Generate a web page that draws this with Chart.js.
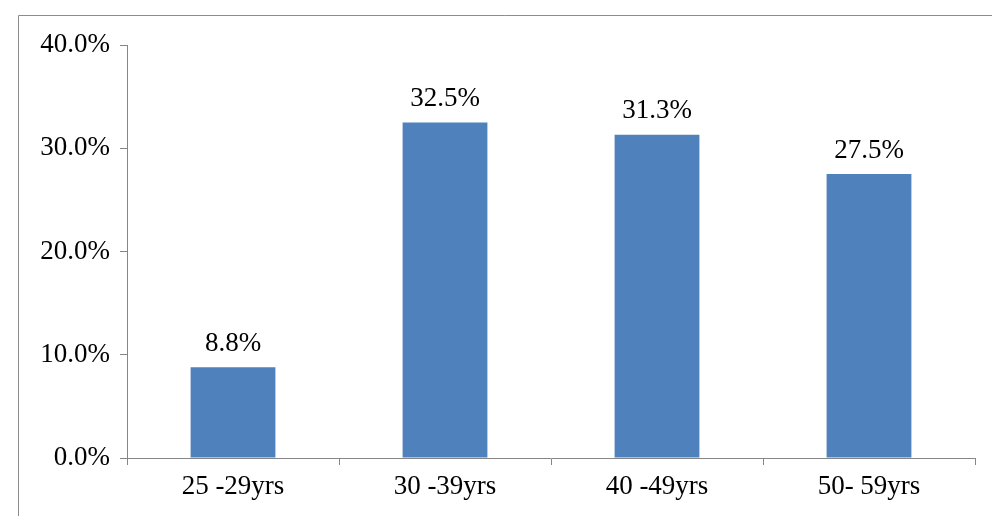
<!DOCTYPE html>
<html>
<head>
<meta charset="utf-8">
<script src="https://cdn.jsdelivr.net/npm/chart.js@4"></script>
<style>
  html, body { margin: 0; padding: 0; background: #fff; }
  #wrap { width: 992px; height: 516px; }
</style>
</head>
<body>
<div id="wrap"><canvas id="grafico"></canvas></div>
<script>
const categorias = ['25 -29yrs', '30 -39yrs', '40 -49yrs', '50- 59yrs'];
const valores = [8.8, 32.5, 31.3, 27.5];
const ticksY = [0, 10, 20, 30, 40];

const corEixo = '#868686';
const fonte = { family: 'Liberation Serif', size: 27 };

// moldura e rótulos em cima das barras
const extras = {
  id: 'extras',
  beforeDraw(chart) {
    const ctx = chart.ctx;
    ctx.save();
    ctx.strokeStyle = '#8c8c8c';
    ctx.lineWidth = 1;
    ctx.beginPath();
    ctx.moveTo(18.5, 516);
    ctx.lineTo(18.5, 15.5);
    ctx.lineTo(992, 15.5);
    ctx.stroke();
    ctx.restore();
  },
  afterDatasetsDraw(chart) {
    const ctx = chart.ctx;
    const meta = chart.getDatasetMeta(0);
    ctx.save();
    ctx.font = '27px "Liberation Serif"';
    ctx.fillStyle = '#000';
    ctx.textAlign = 'center';
    ctx.textBaseline = 'bottom';
    meta.data.forEach((bar, i) => {
      ctx.fillText(valores[i].toFixed(1) + '%', bar.x, bar.y - 10);
    });
    ctx.restore();
  }
};

new Chart(document.getElementById('grafico'), {
  type: 'bar',
  data: {
    labels: categorias,
    datasets: [{
      data: valores,
      backgroundColor: '#4f81bd',
      categoryPercentage: 1,
      barPercentage: 0.4
    }]
  },
  options: {
    responsive: true,
    maintainAspectRatio: false,
    animation: false,
    layout: { padding: { top: 45, right: 17, left: 0, bottom: 0 } },
    plugins: { legend: { display: false }, tooltip: { enabled: false } },
    scales: {
      x: {
        grid: { offset: true, drawOnChartArea: false, color: corEixo, tickLength: 7 },
        border: { color: corEixo },
        ticks: { color: '#000', font: fonte, padding: 6 },
        afterFit(scale) { scale.height = 58; }
      },
      y: {
        min: 0, max: 40,
        afterBuildTicks(scale) { scale.ticks = ticksY.map(v => ({ value: v })); },
        grid: { drawOnChartArea: false, color: corEixo, tickLength: 7 },
        border: { color: corEixo },
        ticks: { color: '#000', font: fonte, padding: 10, callback: v => v.toFixed(1) + '%' },
        afterFit(scale) { scale.width = 127; }
      }
    }
  },
  plugins: [extras]
});
</script>
</body>
</html>
